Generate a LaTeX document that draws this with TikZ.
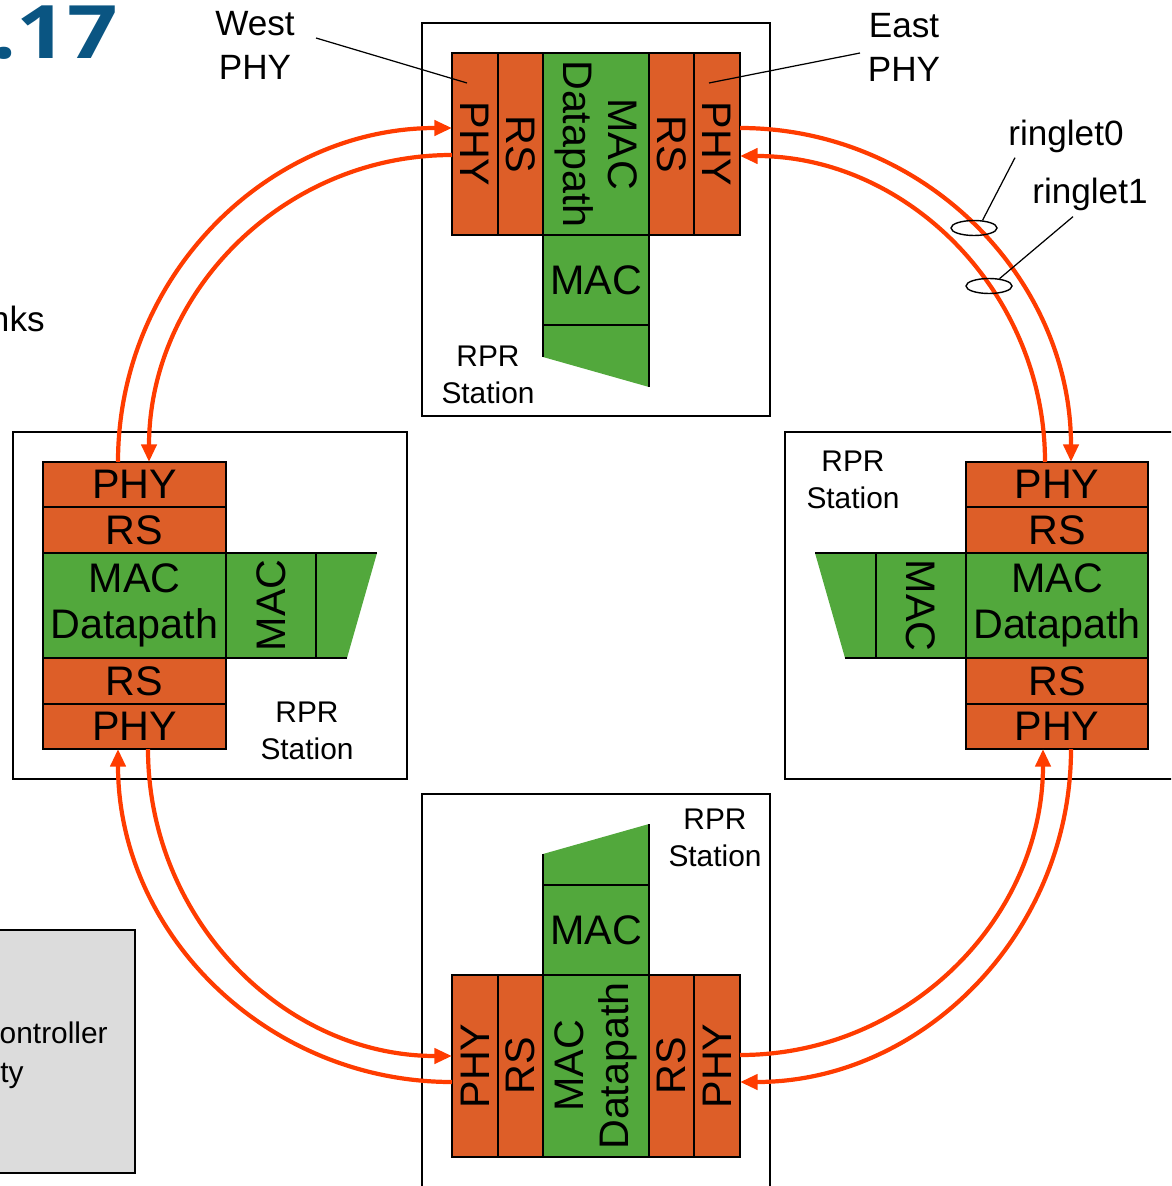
\documentclass[tikz,border=0pt]{standalone}
\usepackage{fontspec}
\setmainfont{Liberation Sans}
\newfontfamily\numfont[FakeStretch=1.2]{Open Sans}
\usetikzlibrary{arrows.meta, shapes.geometric}
\definecolor{layerorange}{RGB}{221,94,40}
\definecolor{macgreen}{RGB}{82,168,60}
\definecolor{ringred}{RGB}{255,60,0}
\definecolor{slideblue}{RGB}{10,85,130}
\definecolor{panelgrey}{RGB}{220,220,220}

\begin{document}
\begin{tikzpicture}
  [x=0.02cm,y=0.02cm,
   cell/.style={draw, line width=1.1pt, inner sep=0pt, align=center, font=\fontsize{23.5}{26}\selectfont},
   phy/.style={cell, fill=layerorange},
   mac/.style={cell, fill=macgreen},
   ring/.style={draw=ringred, line width=2.4pt, -{Triangle[length=10pt,width=8.5pt]}},
   stn/.style={inner sep=0pt, align=center, font=\fontsize{17}{21}\selectfont},
   callout/.style={inner sep=0pt, align=center, font=\fontsize{20}{25}\selectfont},
   ringmark/.style={draw, ellipse, line width=0.8pt, inner sep=0pt, minimum width=0.92cm, minimum height=0.3cm}]

  \useasboundingbox (0,0) rectangle (1171,-1186);
  \clip (0,0) rectangle (1171,-1186);

  % pieces of the slide around the figure
  \node[inner sep=0pt, anchor=base east, text=slideblue, font=\numfont\bfseries\fontsize{42}{42}\selectfont] (num) at (118,-59) {.17};
  \node[inner sep=0pt, anchor=base east, font=\fontsize{20}{24}\selectfont] (links) at (45,-331) {nks};
  \draw[fill=panelgrey, line width=1.1pt] (-10,-930) rectangle (135,-1173);
  \node[inner sep=0pt, anchor=base east, font=\fontsize{17}{22}\selectfont] (ctrl) at (108,-1043) {ontroller};
  \node[inner sep=0pt, anchor=base west, font=\fontsize{17}{22}\selectfont] (ty) at (0,-1082) {ty};

  % station frames
  \draw[line width=1.1pt] (422,-23) rectangle (770,-416);
  \draw[line width=1.1pt] (13,-432) rectangle (407,-779);
  \draw[line width=1.1pt] (785,-432) rectangle (1200,-779);
  \draw[line width=1.1pt] (422,-794) rectangle (770,-1200);

  % MAC tails
  \fill[macgreen] (543,-325) -- (649,-325) -- (649,-387) -- (543,-357) -- cycle;
  \fill[macgreen] (316,-553) -- (377,-553) -- (347,-658) -- (316,-658) -- cycle;
  \fill[macgreen] (876,-553) -- (815,-553) -- (845,-658) -- (876,-658) -- cycle;
  \fill[macgreen] (543,-885) -- (649,-885) -- (649,-824) -- (543,-854) -- cycle;
  \draw[line width=1.1pt] (543,-357) -- (543,-325) -- (649,-325) -- (649,-387);
  \draw[line width=1.1pt] (377,-553) -- (316,-553) -- (316,-658) -- (347,-658);
  \draw[line width=1.1pt] (815,-553) -- (876,-553) -- (876,-658) -- (845,-658);
  \draw[line width=1.1pt] (543,-854) -- (543,-885) -- (649,-885) -- (649,-824);

  % top station
  \node[phy, rotate=-90, minimum width=3.64cm, minimum height=0.92cm] (tW) at (475,-144) {PHY};
  \node[phy, rotate=-90, minimum width=3.64cm, minimum height=0.9cm] (tWrs) at (520.5,-144) {RS};
  \node[mac, rotate=-90, minimum width=3.64cm, minimum height=2.12cm] (tMD) at (596,-144) {MAC\\Datapath};
  \node[phy, rotate=-90, minimum width=3.64cm, minimum height=0.9cm] (tErs) at (671.5,-144) {RS};
  \node[phy, rotate=-90, minimum width=3.64cm, minimum height=0.92cm] (tE) at (717,-144) {PHY};
  \node[mac, minimum width=2.12cm, minimum height=1.8cm] (tMAC) at (596,-280) {MAC};
  \node[stn] (tLbl) at (488,-375) {RPR\\Station};

  % left station
  \node[phy, minimum width=3.66cm, minimum height=0.9cm] (lN) at (134.5,-484.5) {PHY};
  \node[phy, minimum width=3.66cm, minimum height=0.92cm] (lNrs) at (134.5,-530) {RS};
  \node[mac, minimum width=3.66cm, minimum height=2.1cm] (lMD) at (134.5,-605.5) {MAC\\Datapath};
  \node[phy, minimum width=3.66cm, minimum height=0.92cm] (lSrs) at (134.5,-681) {RS};
  \node[phy, minimum width=3.66cm, minimum height=0.9cm] (lS) at (134.5,-726.5) {PHY};
  \node[mac, rotate=90, minimum width=2.1cm, minimum height=1.8cm] (lMAC) at (271,-605.5) {MAC};
  \node[stn] (lLbl) at (307,-731) {RPR\\Station};

  % right station
  \node[phy, minimum width=3.64cm, minimum height=0.9cm] (rN) at (1057,-484.5) {PHY};
  \node[phy, minimum width=3.64cm, minimum height=0.92cm] (rNrs) at (1057,-530) {RS};
  \node[mac, minimum width=3.64cm, minimum height=2.1cm] (rMD) at (1057,-605.5) {MAC\\Datapath};
  \node[phy, minimum width=3.64cm, minimum height=0.92cm] (rSrs) at (1057,-681) {RS};
  \node[phy, minimum width=3.64cm, minimum height=0.9cm] (rS) at (1057,-726.5) {PHY};
  \node[mac, rotate=-90, minimum width=2.1cm, minimum height=1.8cm] (rMAC) at (921,-605.5) {MAC};
  \node[stn] (rLbl) at (853,-480) {RPR\\Station};

  % bottom station
  \node[phy, rotate=90, minimum width=3.64cm, minimum height=0.92cm] (bW) at (475,-1066) {PHY};
  \node[phy, rotate=90, minimum width=3.64cm, minimum height=0.9cm] (bWrs) at (520.5,-1066) {RS};
  \node[mac, rotate=90, minimum width=3.64cm, minimum height=2.12cm] (bMD) at (596,-1066) {MAC\\Datapath};
  \node[phy, rotate=90, minimum width=3.64cm, minimum height=0.9cm] (bErs) at (671.5,-1066) {RS};
  \node[phy, rotate=90, minimum width=3.64cm, minimum height=0.92cm] (bE) at (717,-1066) {PHY};
  \node[mac, minimum width=2.12cm, minimum height=1.8cm] (bMAC) at (596,-930) {MAC};
  \node[stn] (bLbl) at (715,-838) {RPR\\Station};

  % ring ends on the PHY layers
  \coordinate (tWo) at (452,-128);  \coordinate (tWi) at (452,-155);
  \coordinate (tEo) at (740,-128);  \coordinate (tEi) at (740,-156);
  \coordinate (lNo) at (118,-462);  \coordinate (lNi) at (149,-462);
  \coordinate (lSo) at (118,-749);  \coordinate (lSi) at (148,-749);
  \coordinate (rNo) at (1071,-462); \coordinate (rNi) at (1045,-462);
  \coordinate (rSo) at (1071,-749); \coordinate (rSi) at (1043,-749);
  \coordinate (bWo) at (452,-1082); \coordinate (bWi) at (452,-1056);
  \coordinate (bEo) at (740,-1082); \coordinate (bEi) at (740,-1055);

  \foreach \from/\to/\o/\i in {lNo/tWo/90/180, tEo/rNo/0/90, rSo/bEo/-90/0, bWo/lSo/180/-90,
                               tWi/lNi/180/90, lSi/bWi/-90/180, bEi/rSi/0/-90, rNi/tEi/90/0}
    \draw[ring] (\from) to[out=\o, in=\i] (\to);

  % callouts
  \node[callout] (westLbl) at (255,-45) {West\\PHY};
  \node[callout] (eastLbl) at (904,-47) {East\\PHY};
  \coordinate (westTail) at (316,-38);  \coordinate (westPin) at (467,-83);
  \coordinate (eastTail) at (860,-53);  \coordinate (eastPin) at (709,-83);
  \draw[line width=0.7pt] (westTail) -- (westPin);
  \draw[line width=0.7pt] (eastTail) -- (eastPin);

  \node[ringmark] (r0mark) at (974,-228) {};
  \node[ringmark] (r1mark) at (989,-286) {};
  \node[callout, anchor=base west] (r0Lbl) at (1008,-145) {ringlet0};
  \node[callout, anchor=base west] (r1Lbl) at (1032,-203) {ringlet1};
  \draw[line width=0.7pt] (r0Lbl.south west) ++(7,-5) -- (r0mark.42);
  \draw[line width=0.7pt] (r1Lbl.south west) ++(41,-6) -- (r1mark.35);

\end{tikzpicture}
\end{document}
